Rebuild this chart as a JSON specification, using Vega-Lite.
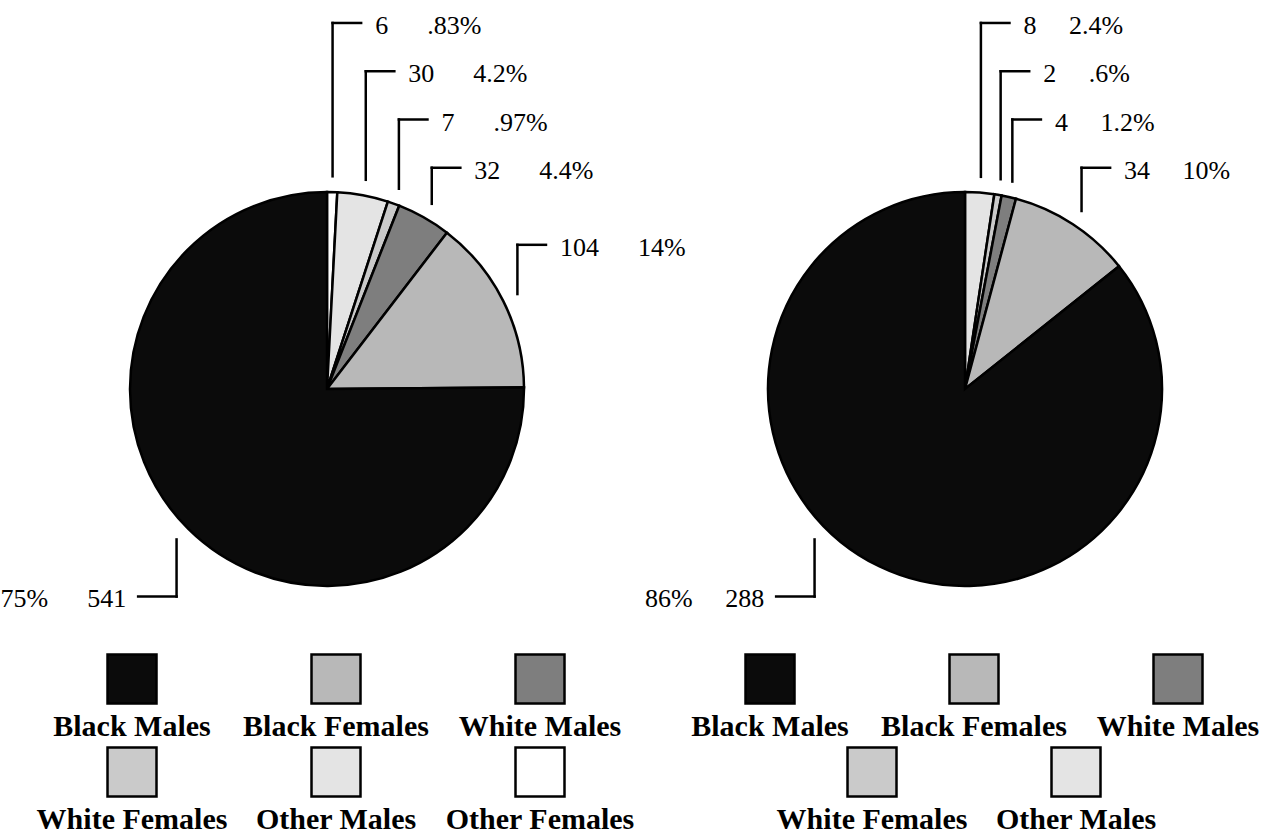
{
  "$schema": "https://vega.github.io/schema/vega-lite/v6.json",
  "padding": 0,
  "background": "white",
  "config": {"view": {"stroke": null}, "text": {"font": "Liberation Serif", "color": "black"}},
  "data": {
    "values": [
      {"chart": 1, "cat": "Other Females", "n": 6, "pct": ".83%"},
      {"chart": 1, "cat": "Other Males", "n": 30, "pct": "4.2%"},
      {"chart": 1, "cat": "White Females", "n": 7, "pct": ".97%"},
      {"chart": 1, "cat": "White Males", "n": 32, "pct": "4.4%"},
      {"chart": 1, "cat": "Black Females", "n": 104, "pct": "14%"},
      {"chart": 1, "cat": "Black Males", "n": 541, "pct": "75%"},
      {"chart": 2, "cat": "Other Males", "n": 8, "pct": "2.4%"},
      {"chart": 2, "cat": "White Females", "n": 2, "pct": ".6%"},
      {"chart": 2, "cat": "White Males", "n": 4, "pct": "1.2%"},
      {"chart": 2, "cat": "Black Females", "n": 34, "pct": "10%"},
      {"chart": 2, "cat": "Black Males", "n": 288, "pct": "86%"}
    ]
  },
  "facet": {"column": {"field": "chart", "type": "ordinal", "header": null}},
  "spacing": 0,
  "bounds": "flush",
  "spec": {
    "width": 638,
    "height": 834,
    "resolve": {"scale": {"x": "independent", "y": "independent"}},
    "layer": [
      {
        "transform": [
          {"window": [{"op": "row_number", "as": "idx"}], "groupby": ["chart"]},
          {"joinaggregate": [{"op": "sum", "field": "n", "as": "total"}], "groupby": ["chart"]},
          {"window": [{"op": "sum", "field": "n", "as": "cum"}], "groupby": ["chart"], "sort": [{"field": "idx"}], "frame": [null, 0]},
          {"calculate": "(datum.cum - datum.n) / datum.total * 2 * PI", "as": "a0"},
          {"calculate": "datum.cum / datum.total * 2 * PI", "as": "a1"},
          {"calculate": "(datum.a0 + datum.a1) / 2", "as": "tm"},
          {"calculate": "cos(datum.tm) > 0", "as": "up"},
          {"calculate": "datum.up ? datum.tm : 1.25 * PI", "as": "tl"},
          {"calculate": "1.08 * sin(datum.tl)", "as": "xs"},
          {"calculate": "1.08 * cos(datum.tl)", "as": "ys"},
          {"calculate": "datum.up ? (sin(datum.tl) > cos(datum.tl) ? datum.ys + 0.25 : 1.858 - 0.245 * (datum.idx - 1)) : datum.ys - 0.29", "as": "ly"},
          {"calculate": "datum.up ? datum.xs + 0.145 : datum.xs - 0.195", "as": "xe"},
          {"calculate": "datum.chart == 1 ? '\u00a0\u00a0\u00a0\u00a0\u00a0\u00a0' : '\u00a0\u00a0\u00a0\u00a0\u00a0'", "as": "gap"},
          {"calculate": "datum.up ? datum.n + datum.gap + datum.pct : datum.pct + datum.gap + datum.n", "as": "label"}
        ],
        "layer": [
          {
            "mark": {"type": "arc", "outerRadius": 197, "stroke": "black", "strokeWidth": 2.5},
            "encoding": {
              "theta": {"field": "a0", "type": "quantitative", "scale": null},
              "theta2": {"field": "a1"},
              "color": {"field": "cat", "type": "nominal", "legend": null,
                "scale": {"domain": ["Black Males", "Black Females", "White Males", "White Females", "Other Males", "Other Females"],
                          "range": ["#0b0b0b", "#b8b8b8", "#7e7e7e", "#cacaca", "#e4e4e4", "#ffffff"]}},
              "x": {"datum": 0, "type": "quantitative", "axis": null, "scale": {"domain": [-1.6447, 1.5939], "nice": false, "zero": false}},
              "y": {"datum": 0, "type": "quantitative", "axis": null, "scale": {"domain": [-2.2589, 1.9746], "nice": false, "zero": false}}
            }
          },
          {
            "mark": {"type": "rule", "stroke": "black", "strokeWidth": 2.5, "strokeCap": "square"},
            "encoding": {
              "x": {"field": "xs", "type": "quantitative", "axis": null, "scale": {"domain": [-1.6447, 1.5939], "nice": false, "zero": false}},
              "y": {"field": "ys", "type": "quantitative", "axis": null, "scale": {"domain": [-2.2589, 1.9746], "nice": false, "zero": false}},
              "y2": {"field": "ly"}
            }
          },
          {
            "mark": {"type": "rule", "stroke": "black", "strokeWidth": 2.5, "strokeCap": "square"},
            "encoding": {
              "x": {"field": "xs", "type": "quantitative", "axis": null, "scale": {"domain": [-1.6447, 1.5939], "nice": false, "zero": false}},
              "x2": {"field": "xe"},
              "y": {"field": "ly", "type": "quantitative", "axis": null, "scale": {"domain": [-2.2589, 1.9746], "nice": false, "zero": false}}
            }
          },
          {
            "transform": [{"filter": "datum.up"}],
            "mark": {"type": "text", "align": "left", "baseline": "alphabetic", "dx": 14, "dy": 11, "fontSize": 26, "font": "Liberation Serif"},
            "encoding": {
              "x": {"field": "xe", "type": "quantitative", "axis": null, "scale": {"domain": [-1.6447, 1.5939], "nice": false, "zero": false}},
              "y": {"field": "ly", "type": "quantitative", "axis": null, "scale": {"domain": [-2.2589, 1.9746], "nice": false, "zero": false}},
              "text": {"field": "label", "type": "nominal"}
            }
          },
          {
            "transform": [{"filter": "!datum.up"}],
            "mark": {"type": "text", "align": "right", "baseline": "alphabetic", "dx": -12, "dy": 10, "fontSize": 26, "font": "Liberation Serif"},
            "encoding": {
              "x": {"field": "xe", "type": "quantitative", "axis": null, "scale": {"domain": [-1.6447, 1.5939], "nice": false, "zero": false}},
              "y": {"field": "ly", "type": "quantitative", "axis": null, "scale": {"domain": [-2.2589, 1.9746], "nice": false, "zero": false}},
              "text": {"field": "label", "type": "nominal"}
            }
          }
        ]
      },
      {
        "transform": [
          {"window": [{"op": "row_number", "as": "src"}], "groupby": ["chart"]},
          {"window": [{"op": "row_number", "as": "k"}], "groupby": ["chart"], "sort": [{"field": "src", "order": "descending"}]},
          {"joinaggregate": [{"op": "count", "as": "cnt"}], "groupby": ["chart"]},
          {"calculate": "(datum.k - 1) % 3", "as": "col"},
          {"calculate": "floor((datum.k - 1) / 3)", "as": "row"},
          {"calculate": "datum.col + (3 - min(3, datum.cnt - 3 * datum.row)) / 2", "as": "slot"}
        ],
        "layer": [
          {
            "mark": {"type": "square", "size": 2400, "filled": true, "opacity": 1, "stroke": "black", "strokeWidth": 2.5},
            "encoding": {
              "x": {"field": "slot", "type": "quantitative", "axis": null, "scale": {"domain": [-0.6324, 2.4951], "nice": false, "zero": false}},
              "y": {"field": "row", "type": "quantitative", "axis": null, "scale": {"domain": [-7.3011, 1.6667], "reverse": true, "nice": false, "zero": false}},
              "color": {"field": "cat", "type": "nominal", "legend": null,
                "scale": {"domain": ["Black Males", "Black Females", "White Males", "White Females", "Other Males", "Other Females"],
                          "range": ["#0b0b0b", "#b8b8b8", "#7e7e7e", "#cacaca", "#e4e4e4", "#ffffff"]}}
            }
          },
          {
            "mark": {"type": "text", "align": "center", "baseline": "alphabetic", "dy": 57, "fontSize": 30, "fontWeight": "bold", "font": "Liberation Serif"},
            "encoding": {
              "x": {"field": "slot", "type": "quantitative", "axis": null, "scale": {"domain": [-0.6324, 2.4951], "nice": false, "zero": false}},
              "y": {"field": "row", "type": "quantitative", "axis": null, "scale": {"domain": [-7.3011, 1.6667], "reverse": true, "nice": false, "zero": false}},
              "text": {"field": "cat", "type": "nominal"}
            }
          }
        ]
      }
    ]
  }
}
